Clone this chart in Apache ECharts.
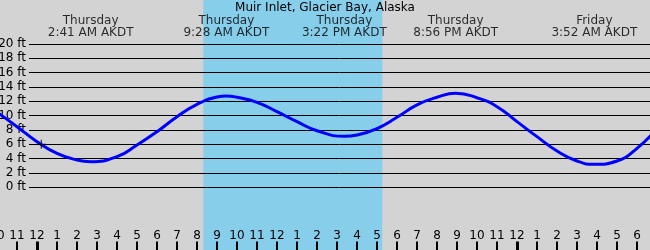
<!DOCTYPE html>
<html>
<head>
<meta charset="utf-8">
<script src="https://cdn.jsdelivr.net/npm/echarts@6/dist/echarts.min.js"></script>
<style>
html,body{margin:0;padding:0;background:#d3d3d3;}
#chart{width:650px;height:250px;}
</style>
</head>
<body>
<div id="chart"></div>
<script>
// Hours measured from Thursday 00:00 AKDT
const titleText = 'Muir Inlet, Glacier Bay, Alaska';
const tideHours   = [-2, -1, 0, 1, 2, 2.683, 4, 5, 6, 7, 8, 9, 9.467, 10, 11, 12, 13, 14, 15.367, 16, 17, 18, 19, 20, 20.933, 22, 23, 24, 25, 26, 27, 27.867, 29, 30, 31];
const tideHeights = [10.5, 8.46, 6.37, 4.74, 3.81, 3.57, 4.27, 5.9, 7.76, 9.85, 11.58, 12.6, 12.74, 12.56, 11.86, 10.55, 9.16, 7.9, 7.11, 7.3, 8.2, 9.77, 11.5, 12.56, 13.12, 12.5, 11.25, 9.16, 7.07, 5.07, 3.67, 3.2, 3.67, 5.44, 8.2];
const extremeHours = [2.683, 9.467, 15.367, 20.933, 27.867];
const extremeDays  = ['Thursday', 'Thursday', 'Thursday', 'Thursday', 'Friday'];
const extremeTimes = ['2:41 AM AKDT', '9:28 AM AKDT', '3:22 PM AKDT', '8:56 PM AKDT', '3:52 AM AKDT'];
const daylight = [8.315, 17.265];          // shaded band (sunrise, sunset)
const nowMark = [0.215, 6.0];              // current time marker
const hourTicks = [-1, 1, 2, 3, 4, 5, 6, 7, 8, 9, 10, 11, 12, 13, 14, 15, 16, 17, 18, 19, 20, 21, 22, 23, 25, 26, 27, 28, 29, 30];
const midnights = [0, 24];

const FONT = 'DejaVu Sans';
const Y_MIN = -8.75, Y_MAX = 26.14;
const LABEL_Y = 22.45;                              // ft-level for extreme labels
const TICK_FT = (Y_MAX - Y_MIN) / 250 * 8.5;        // ~8px tall ticks

const tickLines = (values) => values.map(h => [{coord: [h, Y_MIN]}, {coord: [h, Y_MIN + TICK_FT]}]);

const chart = echarts.init(document.getElementById('chart'), null, {renderer: 'canvas'});
chart.setOption({
  backgroundColor: '#d3d3d3',
  animation: false,
  title: {
    text: titleText, left: 'center', top: 0, padding: [2, 0, 0, 0],
    textStyle: {fontSize: 12, fontWeight: 'normal', color: '#000', fontFamily: FONT}
  },
  grid: [
    {left: -3, width: 660, top: 0, bottom: 0, containLabel: false, outerBoundsMode: 'none'},
    {left: 29, right: 0, top: 44, bottom: 62.7, containLabel: false, outerBoundsMode: 'none'}
  ],
  xAxis: [
    {
      type: 'value', gridIndex: 0, min: -2, max: 31, interval: 1, position: 'bottom', z: 4,
      axisLine: {show: false, onZero: false}, splitLine: {show: false}, axisTick: {show: false},
      axisLabel: {
        inside: true, margin: 8, color: '#000', fontSize: 12, fontFamily: FONT,
        showMinLabel: true, showMaxLabel: true, hideOverlap: false,
        formatter: v => String(((v % 12) + 12) % 12 || 12)
      }
    },
    {type: 'value', gridIndex: 1, show: false, min: 0, max: 1}
  ],
  yAxis: [
    {type: 'value', gridIndex: 0, min: Y_MIN, max: Y_MAX, show: false},
    {
      type: 'value', gridIndex: 1, min: 0, max: 20, interval: 2, z: 3,
      axisLine: {show: false}, axisTick: {show: false},
      splitLine: {show: true, lineStyle: {color: '#000', width: 1}},
      axisLabel: {margin: 3, color: '#000', fontSize: 12, fontFamily: FONT, formatter: v => v + ' ft'}
    }
  ],
  series: [
    {
      type: 'line', xAxisIndex: 0, yAxisIndex: 0, z: 1, data: [], silent: true,
      markArea: {
        silent: true,
        itemStyle: {color: '#87ceeb', opacity: 1},
        data: [[{xAxis: daylight[0], yAxis: Y_MIN}, {xAxis: daylight[1], yAxis: Y_MAX}]]
      }
    },
    {
      type: 'line', xAxisIndex: 0, yAxisIndex: 0, z: 4, data: [], silent: true,
      markLine: {
        silent: true, symbol: ['none', 'none'], label: {show: false},
        lineStyle: {color: '#000000', width: 2, type: 'solid', opacity: 1},
        data: tickLines(hourTicks)
      }
    },
    {
      type: 'line', xAxisIndex: 0, yAxisIndex: 0, z: 4, data: [], silent: true,
      markLine: {
        silent: true, symbol: ['none', 'none'], label: {show: false},
        lineStyle: {color: '#000000', width: 3, type: 'solid', opacity: 1},
        data: tickLines(midnights)
      }
    },
    {
      type: 'line', xAxisIndex: 0, yAxisIndex: 0, z: 5,
      data: tideHours.map((h, i) => [h, tideHeights[i]]),
      smooth: 0.5, showSymbol: false, symbol: 'none',
      lineStyle: {color: '#0000ff', width: 3}
    },
    {
      type: 'scatter', xAxisIndex: 0, yAxisIndex: 0, z: 6,
      data: [nowMark],
      symbol: 'path://M0,5L10,5M5,0L5,10', symbolSize: 9,
      itemStyle: {color: 'rgba(0,0,0,0)', borderColor: '#000', borderWidth: 1.2}
    },
    {
      type: 'scatter', xAxisIndex: 0, yAxisIndex: 0, z: 7,
      data: extremeHours.map((h, i) => ({value: [h, LABEL_Y], day: extremeDays[i], time: extremeTimes[i]})),
      symbolSize: 1, itemStyle: {color: 'rgba(0,0,0,0)'},
      label: {
        show: true, position: 'inside', color: '#000', fontSize: 12, fontFamily: FONT,
        lineHeight: 12, align: 'center', verticalAlign: 'middle',
        formatter: p => p.data.day + '\n' + p.data.time
      }
    }
  ]
});
</script>
</body>
</html>
